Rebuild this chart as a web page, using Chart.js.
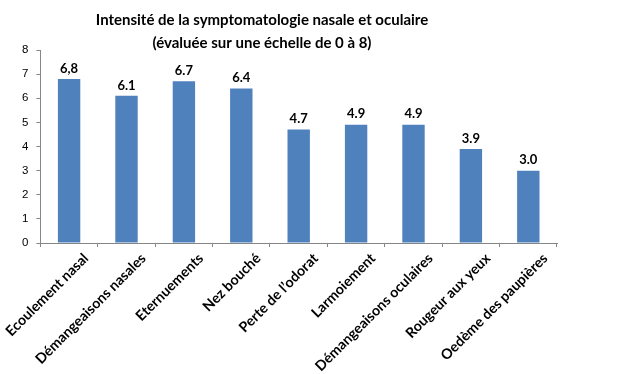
<!DOCTYPE html>
<html><head><meta charset="utf-8">
<script src="https://cdn.jsdelivr.net/npm/chart.js@4/dist/chart.umd.min.js"></script>
<style>html,body{margin:0;padding:0;background:#fff}#wrap{width:618px;height:374px}</style>
</head><body><div id="wrap"><canvas id="c" width="618" height="374"></canvas></div>
<script>
const categories = ["Ecoulement nasal","Démangeaisons nasales","Eternuements","Nez bouché","Perte de l’odorat","Larmoiement","Démangeaisons oculaires","Rougeur aux yeux","Oedème des paupières"];
const values = [6.8, 6.1, 6.7, 6.4, 4.7, 4.9, 4.9, 3.9, 3.0];
const valueLabels = ["6,8","6.1","6.7","6.4","4.7","4.9","4.9","3.9","3.0"];
const yTicks = [0,1,2,3,4,5,6,7,8];
const titleLines = ["Intensité de la symptomatologie nasale et oculaire","(évaluée sur une échelle de 0 à 8)"];

const titlePlugin = {
  id:'customTitle',
  afterDraw(chart){
    const ctx = chart.ctx;
    ctx.save();
    ctx.font = 'bold 15px Lato';
    ctx.fillStyle = '#000';
    ctx.textAlign = 'center';
    ctx.textBaseline = 'middle';
    ctx.fillText(titleLines[0], 262, 20);
    ctx.fillText(titleLines[1], 262, 43);
    ctx.restore();
  }
};
const valuePlugin = {
  id:'valueLabels',
  afterDatasetsDraw(chart){
    const ctx = chart.ctx;
    const meta = chart.getDatasetMeta(0);
    ctx.save();
    ctx.font = 'bold 13px Lato';
    ctx.fillStyle = '#000';
    ctx.textAlign = 'center';
    ctx.textBaseline = 'bottom';
    meta.data.forEach((bar,i)=>{
      ctx.fillText(valueLabels[i], bar.x, bar.y - 4);
    });
    ctx.restore();
  }
};
const xLabelPlugin = {
  id:'xLabels',
  afterDraw(chart){
    const ctx = chart.ctx;
    const xs = chart.scales.x;
    ctx.save();
    ctx.font = 'bold 14.2px Lato';
    ctx.fillStyle = '#000';
    ctx.textAlign = 'right';
    ctx.textBaseline = 'middle';
    categories.forEach((lab,i)=>{
      const px = xs.getPixelForValue(i) + 17;
      const py = xs.top + 13;
      ctx.save();
      ctx.translate(px, py);
      ctx.rotate(-Math.PI/4);
      ctx.fillText(lab, 0, 0);
      ctx.restore();
    });
    ctx.restore();
  }
};

new Chart(document.getElementById('c'), {
  type:'bar',
  data:{labels:categories, datasets:[{data:values, backgroundColor:'#4F81BD', barPercentage:0.78, categoryPercentage:0.5}]},
  options:{
    responsive:false, animation:false,
    layout:{padding:{top:50, right:61, left:14, bottom:127}},
    plugins:{legend:{display:false}, tooltip:{enabled:false}, title:{display:false}},
    scales:{
      x:{
        grid:{display:true, drawOnChartArea:false, offset:true, tickLength:4, color:'#868686'},
        border:{color:'#868686'},
        ticks:{display:false}
      },
      y:{
        min:0, max:8,
        afterBuildTicks(axis){ axis.ticks = yTicks.map(v=>({value:v})); },
        grid:{display:true, drawOnChartArea:false, tickLength:4, color:'#868686'},
        border:{color:'#868686'},
        ticks:{color:'#000', font:{family:'Liberation Sans', size:11.5}, padding:8}
      }
    }
  },
  plugins:[titlePlugin, valuePlugin, xLabelPlugin]
});
</script></body></html>
